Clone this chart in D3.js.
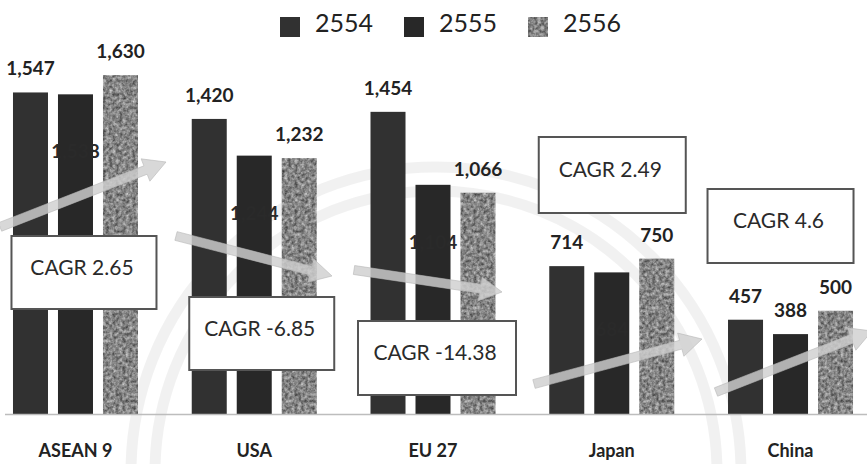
<!DOCTYPE html>
<html lang="en">
<head>
	<meta charset="UTF-8">
	<title>CAGR chart</title>
	<style>
		body { margin: 0; background: #fff; }
		svg { display: block; }
	</style>
</head>
<body>
	<svg width="867" height="464"></svg>
	<script src="https://cdn.jsdelivr.net/npm/d3@7"></script>
	<script>
		// data
		var categories = ["ASEAN 9", "USA", "EU 27", "Japan", "China"];
		var years = ["2554", "2555", "2556"];
		var values2554 = [1547, 1420, 1454, 714, 457];
		var values2555 = [1538, 1244, 1104, 684, 388];
		var values2556 = [1630, 1232, 1066, 750, 500];
		var cagrLabels = ["CAGR 2.65", "CAGR -6.85", "CAGR -14.38", "CAGR 2.49", "CAGR 4.6"];

		var seriesValues = [values2554, values2555, values2556];
		var colors = ["#313131", "#282828", "#8a8a8a"];

		var svg = d3.select("svg");
		var fmt = d3.format(",");

		// grain texture for the light series
		var defs = svg.append("defs");
		var f = defs.append("filter").attr("id", "grain")
			.attr("x", 0).attr("y", 0).attr("width", 1).attr("height", 1)
			.attr("color-interpolation-filters", "sRGB");
		f.append("feTurbulence").attr("type", "fractalNoise")
			.attr("baseFrequency", 0.3).attr("numOctaves", 3).attr("seed", 4).attr("result", "t");
		f.append("feColorMatrix").attr("in", "t").attr("type", "matrix")
			.attr("values", "0.7 0 0 0 0.17  0.7 0 0 0 0.17  0.7 0 0 0 0.17  0 0 0 0 1")
			.attr("result", "g");
		f.append("feComposite").attr("in", "g").attr("in2", "SourceGraphic").attr("operator", "in");

		// scales
		var baseY = 415;
		var x = d3.scaleBand().domain(categories).range([-13.9, 879.9]).padding(0);
		var xs = d3.scaleBand().domain(years)
			.range([x.bandwidth() / 2 - 62.5, x.bandwidth() / 2 + 62.5]).paddingInner(0.222);
		var y = d3.scaleLinear().domain([0, 1800]).range([baseY, baseY - 1800 * 0.2085]);

		// faint watermark rings
		var ring = svg.append("g").attr("fill", "none").attr("stroke", "#000").attr("stroke-opacity", 0.055);
		[305, 281].forEach(function(r) {
			ring.append("circle").attr("cx", 436).attr("cy", 472).attr("r", r).attr("stroke-width", 11);
		});

		// bars
		var rows = [];
		categories.forEach(function(c, i) {
			years.forEach(function(yr, j) {
				rows.push({ cat: c, year: yr, s: j, v: seriesValues[j][i] });
			});
		});

		var groups = svg.append("g").selectAll("g").data(categories).join("g")
			.attr("transform", function(c) { return "translate(" + x(c) + ",0)"; });

		groups.selectAll("rect")
			.data(function(c) { return rows.filter(function(r) { return r.cat === c; }); })
			.join("rect")
			.attr("x", function(d) { return xs(d.year); })
			.attr("width", xs.bandwidth())
			.attr("y", function(d) { return y(d.v); })
			.attr("height", function(d) { return y(0) - y(d.v); })
			.attr("fill", function(d) { return colors[d.s]; })
			.attr("filter", function(d) { return d.s === 2 ? "url(#grain)" : null; });

		// value labels; the middle series sits inside its bar except for China
		var inside = function(d) { return d.s === 1 && d.cat !== "China"; };
		groups.selectAll("text.val")
			.data(function(c) { return rows.filter(function(r) { return r.cat === c; }); })
			.join("text").attr("class", "val")
			.attr("x", function(d) { return xs(d.year) + xs.bandwidth() / 2; })
			.attr("y", function(d) { return inside(d) ? y(d.v) + 64 : y(d.v) - 17; })
			.attr("text-anchor", "middle")
			.style("font-family", "Lato, 'Open Sans', sans-serif")
			.style("font-weight", "bold")
			.style("font-size", "19px")
			.attr("fill", function(d) { return inside(d) ? "#2a2a2a" : "#222"; })
			.text(function(d) { return fmt(d.v); });

		// axis baseline
		svg.append("line").attr("x1", 5).attr("x2", 867).attr("y1", baseY - 0.5).attr("y2", baseY - 0.5)
			.attr("stroke", "#bdbdbd").attr("stroke-width", 1.5);

		// category labels
		svg.append("g").selectAll("text").data(categories).join("text")
			.attr("x", function(c) { return x(c) + x.bandwidth() / 2; })
			.attr("y", 457)
			.attr("text-anchor", "middle")
			.style("font-family", "Lato, 'Open Sans', sans-serif")
			.style("font-weight", "bold")
			.style("font-size", "18px")
			.attr("fill", "#222")
			.text(function(c) { return c; });

		// CAGR trend arrows
		function arrowPath(x1, y1, x2, y2) {
			var sw = 4.5, hw = 12, hl = 22;
			var dx = x2 - x1, dy = y2 - y1, len = Math.sqrt(dx * dx + dy * dy);
			var ux = dx / len, uy = dy / len, nx = -uy, ny = ux;
			var bx = x2 - ux * hl, by = y2 - uy * hl;
			var pts = [
				[x1 + nx * sw, y1 + ny * sw], [bx + nx * sw, by + ny * sw], [bx + nx * hw, by + ny * hw],
				[x2, y2],
				[bx - nx * hw, by - ny * hw], [bx - nx * sw, by - ny * sw], [x1 - nx * sw, y1 - ny * sw]
			];
			return d3.line()(pts) + "Z";
		}
		var arrows = [
			[0, 227, 166, 162], [176, 236, 332, 276], [354, 270, 502, 292],
			[534, 384, 702, 339], [716, 392, 872, 331]
		];
		svg.append("g").selectAll("path").data(arrows).join("path")
			.attr("d", function(a) { return arrowPath(a[0], a[1], a[2], a[3]); })
			.attr("fill", "#cfcfcf").attr("fill-opacity", 0.82)
			.attr("stroke", "#b8b8b8").attr("stroke-opacity", 0.6).attr("stroke-width", 1);

		// CAGR boxes, placed relative to each group
		var boxes = [
			{ dx: -64, top: 236, w: 145, h: 73 },
			{ dx: -65, top: 297, w: 145, h: 73 },
			{ dx: -75, top: 321, w: 158, h: 74 },
			{ dx: -73, top: 137, w: 147, h: 76 },
			{ dx: -83, top: 189, w: 146, h: 74 }
		];
		var bg = svg.append("g").selectAll("g").data(categories).join("g")
			.attr("transform", function(c, i) {
				return "translate(" + (x(c) + x.bandwidth() / 2 + boxes[i].dx) + "," + boxes[i].top + ")";
			});
		bg.append("rect")
			.attr("x", 0).attr("y", 0)
			.attr("width", function(c, i) { return boxes[i].w; })
			.attr("height", function(c, i) { return boxes[i].h; })
			.attr("fill", "#fff").attr("stroke", "#555").attr("stroke-width", 2);
		bg.append("text")
			.attr("x", function(c, i) { return boxes[i].w / 2 - 2; })
			.attr("y", function(c, i) { return boxes[i].h / 2 + 2; })
			.attr("text-anchor", "middle")
			.style("font-family", "Lato, 'Open Sans', sans-serif")
			.style("font-size", "21px")
			.attr("fill", "#2a2a2a")
			.text(function(c, i) { return cagrLabels[i]; });

		// legend
		var leg = svg.append("g").selectAll("g").data(years).join("g")
			.attr("transform", function(d, i) { return "translate(" + (280 + i * 124) + ",17)"; });
		leg.append("rect").attr("width", 20).attr("height", 20)
			.attr("fill", function(d, i) { return colors[i]; })
			.attr("filter", function(d, i) { return i === 2 ? "url(#grain)" : null; });
		leg.append("text").attr("x", 35).attr("y", 15)
			.style("font-family", "Lato, 'Open Sans', sans-serif")
			.style("font-size", "25px")
			.attr("fill", "#222")
			.text(function(d) { return d; });
	</script>
</body>
</html>
